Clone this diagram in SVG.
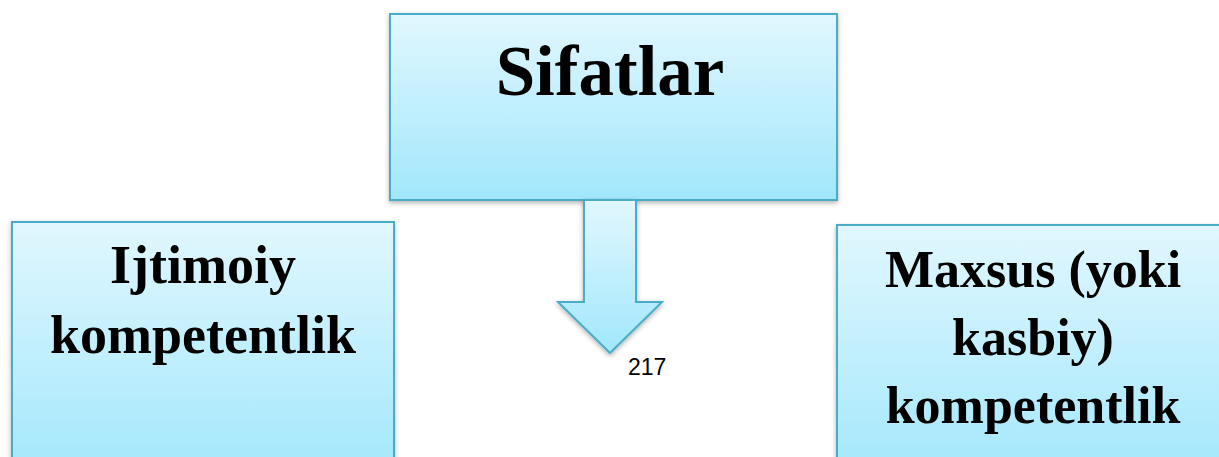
<svg xmlns="http://www.w3.org/2000/svg" width="1219" height="457" viewBox="0 0 1219 457">
<style>
.box{stroke:#4aacc8;stroke-width:2;filter:url(#sh)}
.t{font-family:"Liberation Serif","Times New Roman",serif;font-weight:bold;fill:#000;text-anchor:middle}
.num{font-family:"Liberation Sans",Arial,sans-serif;font-size:23px;fill:#000}
</style>
<defs>
<linearGradient id="g" x1="0" y1="0" x2="0" y2="1">
<stop offset="0" stop-color="#e1f7fe"/>
<stop offset="1" stop-color="#a1e7fc"/>
</linearGradient>
<filter id="sh" x="-10%" y="-10%" width="120%" height="120%">
<feDropShadow dx="0" dy="2" stdDeviation="2.5" flood-color="#000" flood-opacity="0.3"/>
</filter>
</defs>
<g id="node-sifatlar">
<rect class="box" x="390" y="14" width="447" height="186" fill="url(#g)"/>
<text class="t" x="610" y="95" font-size="71">Sifatlar</text>
</g>
<g id="connectors">
<path class="box" d="M584,200 L636,200 L636,302 L662,302 L610,353 L558,302 L584,302 Z" fill="url(#g)"/>
</g>
<g id="node-ijtimoiy">
<rect class="box" x="12" y="222" width="382" height="260" fill="url(#g)"/>
<text class="t" x="203" y="283" font-size="54">Ijtimoiy</text>
<text class="t" x="203" y="353" font-size="54">kompetentlik</text>
</g>
<g id="node-maxsus">
<rect class="box" x="837" y="225" width="392" height="260" fill="url(#g)"/>
<text class="t" x="1033" y="287" font-size="52">Maxsus (yoki</text>
<text class="t" x="1033" y="355" font-size="52">kasbiy)</text>
<text class="t" x="1033" y="423" font-size="52">kompetentlik</text>
</g>
<text class="num" x="628" y="375">217</text>
</svg>
